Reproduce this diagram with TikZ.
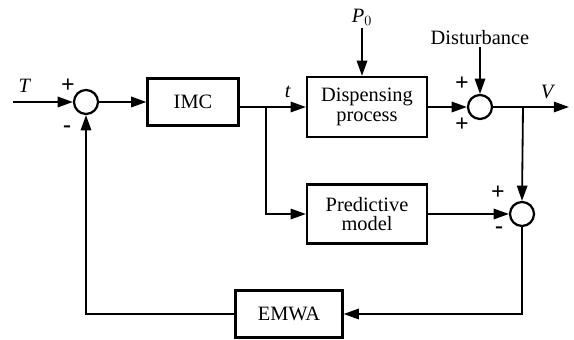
\documentclass[tikz,border=0pt]{standalone}
\usepackage{fontspec}
\setmainfont{Liberation Serif}
\usepackage{tikz}
\usetikzlibrary{arrows.meta, positioning, calc}
\tikzstyle{block} = [rectangle, draw=black, line width=1.6pt, align=center, inner sep=0pt]
\tikzstyle{arrow} = [line width=1.3pt, -{Triangle[length=0.38cm, width=0.26cm]}]

\begin{document}
\begin{tikzpicture}[
    x=0.025cm, y=-0.025cm,
    font=\fontsize{14.5}{16}\selectfont,
    sum/.style={circle, draw, line width=1.6pt, minimum size=0.6cm, inner sep=0pt},
    sign/.style={font=\fontsize{17}{17}\selectfont\bfseries, inner sep=0pt},
    every path/.style={line width=1.3pt},
]
    \useasboundingbox (0,0) rectangle (574,340);

    % Blocks
    \node[block, minimum width=2.275cm, minimum height=1.175cm] (imc) at (193,102) {IMC};
    \node[block, minimum width=3cm, minimum height=1.5cm] (disp) at (367,107) {Dispensing\\[-2pt]process};
    \node[block, minimum width=3cm, minimum height=1.475cm] (pred) at (367,214) {Predictive\\[-2pt]model};
    \node[block, minimum width=2.675cm, minimum height=1.175cm] (emwa) at (289,314) {EMWA};

    % Summing junctions
    \node[sum] (sum1) at (86,102) {};
    \node[sum] (sum2) at (480,107) {};
    \node[sum] (sum3) at (522,214) {};

    % Labels
    \node (T) at (25,86) {\textit{T}};
    \node (tl) at (288,92) {\textit{t}};
    \node (V) at (548,92) {\textit{V}};
    \node[inner sep=1pt] (p0) at (362,17) {\textit{P}$_0$};
    \node[inner sep=1pt] (dist) at (480,38) {Disturbance};

    % Signs
    \node[sign] (s1a) at (68,86) {+};
    \node[sign] (s1b) at (67,129) {-};
    \node[sign] (s2a) at (462,84) {+};
    \node[sign] (s2b) at (462,125) {+};
    \node[sign] (s3a) at (498,193) {+};
    \node[sign] (s3b) at (499,230) {-};

    % Branch points and free ends
    \coordinate (tin) at (13,102);
    \coordinate (split) at (266,107);
    \coordinate (tap) at (523,107);
    \coordinate (vout) at (569,107);

    % Forward path
    \draw[arrow] (tin) -- (sum1.west);
    \draw[arrow] (sum1) -- (imc);
    \draw (imc.east |- split) -- (split);
    \draw[arrow] (split) -- (disp.west);
    \draw[arrow] (disp) -- (sum2);
    \draw[arrow] (sum2) -- (vout);
    \draw[arrow] (p0) -- (p0 |- disp.north);
    \draw[arrow] (dist) -- (sum2.north);

    % Model path
    \draw[arrow] (split) |- (pred.west);
    \draw[arrow] (pred) -- (sum3);
    \draw[arrow] (tap) -- (sum3.north);

    % Feedback
    \draw[arrow] (sum3.south) |- (emwa.east);
    \draw[arrow] (emwa.west) -| (sum1.south);
\end{tikzpicture}
\end{document}
